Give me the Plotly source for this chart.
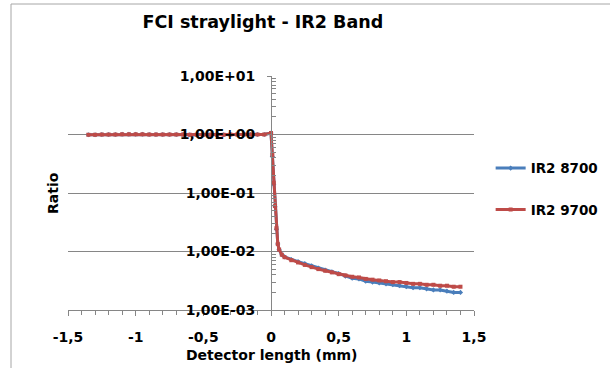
import plotly.graph_objects as go

# ---- data ----
x_flat = [-1.35, -1.3, -1.25, -1.2, -1.15, -1.1, -1.05, -1.0, -0.95, -0.9, -0.85, -0.8,
          -0.75, -0.7, -0.65, -0.6, -0.55, -0.5, -0.45, -0.4, -0.35, -0.3, -0.25, -0.2,
          -0.15, -0.1, -0.05]
ir2_8700_flat = [0.99, 0.99, 1.0, 1.0, 1.0, 1.01, 1.01, 1.01, 1.01, 1.0, 1.0, 1.0,
                 1.0, 1.0, 1.0, 0.99, 0.99, 0.99, 0.99, 0.99, 0.99, 1.0, 1.0, 1.0,
                 1.0, 1.0, 1.0]
ir2_9700_flat = [0.99, 0.99, 1.0, 1.0, 1.0, 1.01, 1.01, 1.01, 1.01, 1.0, 1.0, 1.0,
                 1.0, 1.0, 1.0, 0.99, 0.99, 0.99, 0.99, 0.99, 0.99, 1.0, 1.0, 1.0,
                 1.0, 1.0, 1.0]

x_right = [0.0, 0.01, 0.02, 0.03, 0.04, 0.05, 0.06, 0.08, 0.1, 0.15, 0.2, 0.25, 0.3,
           0.35, 0.4, 0.45, 0.5, 0.55, 0.6, 0.65, 0.7, 0.75, 0.8, 0.85, 0.9, 0.95,
           1.0, 1.05, 1.1, 1.15, 1.2, 1.25, 1.3, 1.35, 1.4]
ir2_8700_right = [1.06, 0.42, 0.14, 0.058, 0.024, 0.0135, 0.0108, 0.0088, 0.0081,
                  0.0073, 0.0067, 0.0062, 0.0057, 0.0052, 0.0048, 0.0045, 0.0042,
                  0.0038, 0.0035, 0.0034, 0.0031, 0.0030, 0.0029, 0.0028, 0.0027,
                  0.0026, 0.0025, 0.0024, 0.0024, 0.0023, 0.0022, 0.0022, 0.0021,
                  0.0020, 0.0020]
ir2_9700_right = [1.06, 0.45, 0.15, 0.06, 0.025, 0.0135, 0.0108, 0.0088, 0.0080,
                  0.0071, 0.0065, 0.0059, 0.0054, 0.0050, 0.0047, 0.0044, 0.0041,
                  0.0039, 0.0037, 0.0036, 0.0034, 0.0033, 0.0032, 0.0031, 0.0030,
                  0.0030, 0.0029, 0.0028, 0.0028, 0.0027, 0.0027, 0.0026, 0.0026,
                  0.0025, 0.0025]

x_vals = x_flat + x_right
ir2_8700 = ir2_8700_flat + ir2_8700_right
ir2_9700 = ir2_9700_flat + ir2_9700_right

x_tickvals = [-1.5, -1.0, -0.5, 0.0, 0.5, 1.0, 1.5]
x_ticktext = ["-1,5", "-1", "-0,5", "0", "0,5", "1", "1,5"]
y_tickvals = [1e-3, 1e-2, 1e-1, 1e0, 1e1]
y_ticktext = ["1,00E-03", "1,00E-02", "1,00E-01", "1,00E+00", "1,00E+01"]

title_text = "FCI straylight - IR2 Band"
x_title = "Detector length (mm)"
y_title = "Ratio"

# ---- style ----
FONT = "DejaVu Sans"
AX = "#868686"
BLUE = "#4A7EBB"
RED = "#BE4B48"

minor_y = [m * 10 ** e for e in range(-3, 1) for m in range(2, 10)]

fig = go.Figure()
fig.add_trace(go.Scatter(x=x_vals, y=ir2_8700, name="IR2 8700", mode="lines+markers",
                         line=dict(color=BLUE, width=3),
                         marker=dict(symbol="diamond", size=4, color=BLUE),
                         legendgroup="a"))
fig.add_trace(go.Scatter(x=x_vals, y=ir2_9700, name="IR2 9700", mode="lines+markers",
                         line=dict(color=RED, width=3),
                         marker=dict(symbol="square", size=4, color=RED),
                         legendgroup="b"))

fig.update_layout(
    width=610, height=368,
    margin=dict(l=68, r=136, t=76, b=58, autoexpand=False),
    paper_bgcolor="white", plot_bgcolor="white",
    font=dict(family=FONT, size=14, color="black", weight="bold"),
    title=dict(text=title_text, x=0.48, xref="paper", xanchor="center",
               y=1 - 22 / 368, yref="container", yanchor="middle",
               font=dict(family=FONT, size=17.5, weight="bold", color="black")),
    showlegend=True,
    legend=dict(x=1.041, xanchor="left", y=0.672, yanchor="top",
                bgcolor="rgba(0,0,0,0)", tracegroupgap=21,
                font=dict(family=FONT, size=13.5, weight="bold", color="black")),
    xaxis=dict(range=[-1.5, 1.5], tickmode="array", tickvals=x_tickvals,
               ticktext=x_ticktext, showgrid=False, zeroline=False,
               showline=True, linecolor=AX, linewidth=1,
               ticks="outside", ticklen=5, tickcolor=AX, ticklabelstandoff=9,
               tickfont=dict(family=FONT, size=14, weight="bold", color="black"),
               minor=dict(tickmode="linear", tick0=-1.5, dtick=0.1, ticks="outside",
                          ticklen=4, tickcolor=AX, showgrid=False),
               anchor="y", domain=[0, 1]),
    yaxis=dict(type="log", range=[-3, 1], tickmode="array", tickvals=y_tickvals,
               ticktext=y_ticktext, showgrid=True, gridcolor=AX, gridwidth=1,
               showline=True, linecolor=AX, linewidth=1, zeroline=False,
               ticks="outside", ticklen=4, tickcolor=AX, ticklabelstandoff=9,
               tickfont=dict(family=FONT, size=14, weight="bold", color="black"),
               minor=dict(tickmode="array", tickvals=minor_y, ticks="inside",
                          ticklen=4, tickcolor=AX, showgrid=False),
               anchor="free", position=0.5),
    annotations=[
        dict(text=y_title, xref="paper", yref="paper", x=(53 - 68) / 406, y=0.5,
             showarrow=False, textangle=-90, xanchor="center", yanchor="middle",
             font=dict(family=FONT, size=14, weight="bold", color="black")),
        dict(text=x_title, xref="paper", yref="paper", x=(271 - 68) / 406,
             y=(310 - 355) / 234, showarrow=False, xanchor="center", yanchor="middle",
             font=dict(family=FONT, size=14, weight="bold", color="black")),
    ],
    shapes=[dict(type="rect", xref="paper", yref="paper",
                 x0=(11 - 68) / 406, x1=2.0, y0=-1.0, y1=(310 - 4) / 234,
                 line=dict(color="#A6A6A6", width=1), layer="below")],
)

fig.write_html("out.html")
